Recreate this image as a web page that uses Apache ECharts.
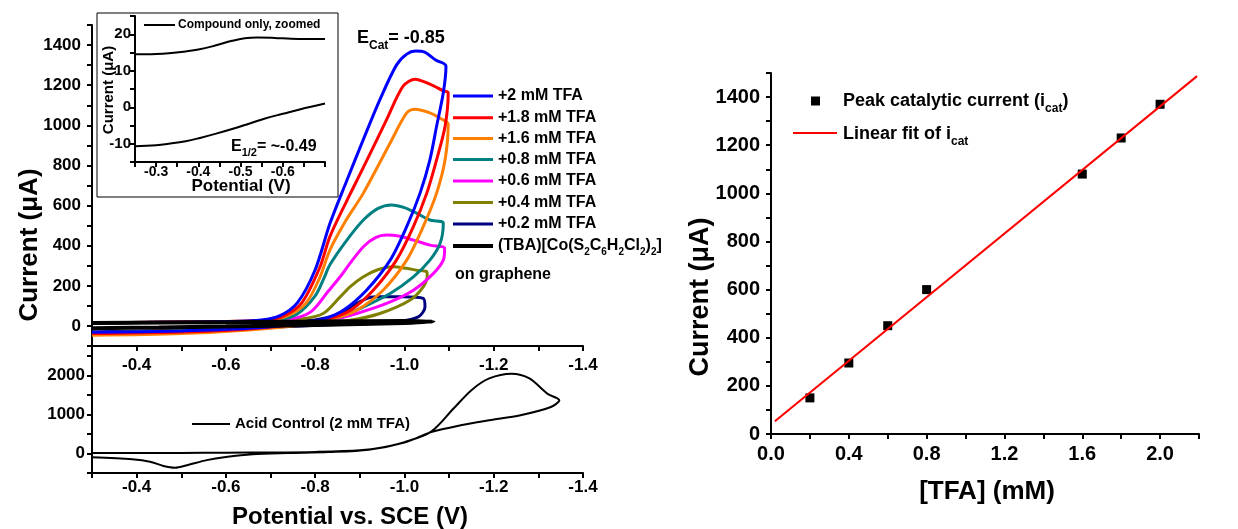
<!DOCTYPE html>
<html>
<head>
<meta charset="utf-8">
<title>Catalytic CV and peak current</title>
<script src="https://cdn.jsdelivr.net/npm/echarts@6/dist/echarts.min.js"></script>
<style>
  html, body { margin: 0; padding: 0; background: #fff; }
  #chart { width: 1238px; height: 529px; }
</style>
</head>
<body>
<div id="chart"></div>
<script>
// CV loops, [potential (V vs SCE), current (uA)]
const cv20 = [[-0.3, 15], [-0.45, 18], [-0.6, 22], [-0.68, 30], [-0.72, 50], [-0.76, 115], [-0.8, 280], [-0.833, 510], [-0.87, 720], [-0.908, 930], [-0.945, 1128], [-0.982, 1300], [-1.005, 1355], [-1.025, 1370], [-1.045, 1365], [-1.07, 1325], [-1.093, 1295],
  [-1.087, 1162], [-1.072, 995], [-1.057, 828], [-1.035, 662], [-1.005, 495], [-0.968, 328], [-0.915, 178], [-0.863, 78], [-0.82, 35], [-0.76, 10], [-0.65, -12], [-0.5, -25], [-0.3, -32]]
const cv18 = [[-0.3, 15], [-0.45, 18], [-0.6, 22], [-0.69, 30], [-0.73, 50], [-0.77, 115], [-0.81, 290], [-0.833, 445], [-0.87, 620], [-0.908, 790], [-0.96, 1028], [-0.997, 1195], [-1.024, 1230], [-1.057, 1205], [-1.087, 1172], [-1.098, 1162],
  [-1.091, 995], [-1.072, 828], [-1.05, 662], [-1.02, 495], [-0.982, 328], [-0.93, 178], [-0.88, 80], [-0.83, 35], [-0.76, 8], [-0.65, -15], [-0.5, -30], [-0.3, -38]]
const cv16 = [[-0.3, 15], [-0.45, 18], [-0.6, 22], [-0.7, 30], [-0.74, 52], [-0.78, 115], [-0.81, 240], [-0.833, 378], [-0.87, 530], [-0.908, 662], [-0.968, 912], [-1.005, 1062], [-1.024, 1080], [-1.057, 1062], [-1.08, 1035], [-1.098, 1005],
  [-1.091, 828], [-1.072, 662], [-1.042, 495], [-1.005, 328], [-0.952, 178], [-0.893, 78], [-0.84, 35], [-0.77, 5], [-0.65, -20], [-0.5, -38], [-0.3, -47]]
const cv08 = [[-0.3, 15], [-0.5, 18], [-0.65, 22], [-0.72, 32], [-0.76, 60], [-0.8, 150], [-0.82, 240], [-0.833, 305], [-0.871, 428], [-0.908, 528], [-0.94, 585], [-0.971, 603], [-1.0, 590], [-1.027, 562], [-1.057, 528], [-1.087, 512],
  [-1.08, 412], [-1.057, 328], [-1.02, 245], [-0.968, 162], [-0.908, 95], [-0.856, 45], [-0.8, 20], [-0.7, 0], [-0.55, -20], [-0.3, -35]]
const cv06 = [[-0.3, 15], [-0.5, 18], [-0.65, 22], [-0.74, 32], [-0.79, 70], [-0.83, 175], [-0.856, 245], [-0.878, 312], [-0.908, 395], [-0.935, 440], [-0.96, 453], [-0.99, 447], [-1.02, 428], [-1.057, 403], [-1.09, 387],
  [-1.087, 328], [-1.065, 262], [-1.02, 178], [-0.96, 112], [-0.893, 62], [-0.833, 28], [-0.75, 5], [-0.6, -18], [-0.3, -38]]
const cv04 = [[-0.3, 15], [-0.5, 18], [-0.7, 22], [-0.77, 35], [-0.818, 62], [-0.856, 145], [-0.878, 195], [-0.908, 245], [-0.94, 280], [-0.975, 295], [-1.005, 287], [-1.027, 278], [-1.05, 270], [-1.051, 253],
  [-1.042, 195], [-1.012, 128], [-0.945, 62], [-0.878, 28], [-0.8, 10], [-0.65, -12], [-0.3, -35]]
const cv02 = [[-0.3, 15], [-0.5, 18], [-0.7, 22], [-0.8, 30], [-0.856, 62], [-0.893, 112], [-0.92, 140], [-0.945, 145], [-0.997, 145], [-1.042, 137], [-1.046, 95],
  [-1.031, 45], [-0.982, 20], [-0.93, 12], [-0.818, 5], [-0.6, -15], [-0.3, -30]]
const cvCompound = [[-0.3, -11], [-0.45, -8], [-0.6, -3], [-0.8, 5], [-1.0, 15], [-1.065, 22], [-1.0, 25], [-0.8, 22], [-0.6, 19], [-0.3, 15]]

// inset: compound only, zoomed
const insetUpper = [[-0.25, 14.5], [-0.3, 14.6], [-0.33, 14.8], [-0.37, 15.3], [-0.4, 15.8], [-0.44, 16.9], [-0.48, 18.2], [-0.51, 18.9], [-0.54, 19.1], [-0.58, 19.0], [-0.62, 18.8], [-0.7, 18.7]]
const insetLower = [[-0.25, -10.7], [-0.3, -10.4], [-0.33, -10.0], [-0.37, -9.3], [-0.404, -8.4], [-0.44, -7.3], [-0.482, -5.9], [-0.52, -4.5], [-0.56, -3.0], [-0.6, -1.8], [-0.64, -0.6], [-0.7, 1.0]]

// acid control (2 mM TFA)
const acidCv = [[-0.3, 10], [-0.4, 12], [-0.5, 15], [-0.6, 20], [-0.7, 25], [-0.8, 40], [-0.9, 80], [-0.95, 150], [-1.0, 290], [-1.06, 560], [-1.11, 1150], [-1.15, 1620], [-1.19, 1920], [-1.24, 2040], [-1.28, 1920], [-1.32, 1530], [-1.347, 1360],
  [-1.328, 1190], [-1.26, 980], [-1.19, 850], [-1.126, 720], [-1.06, 545], [-1.0, 280], [-0.92, 95], [-0.83, 35], [-0.74, 10], [-0.66, -20], [-0.6, -90], [-0.557, -170], [-0.513, -300], [-0.486, -365], [-0.46, -320], [-0.43, -210], [-0.39, -150], [-0.3, -100]]

// peak catalytic current vs [TFA]
const tfaConc = [0.2, 0.4, 0.6, 0.8, 1.6, 1.8, 2.0]
const icatPeak = [150, 295, 450, 600, 1080, 1230, 1370]
const fitConc = [0.02, 2.19]
const fitCurrent = [53, 1487]

const cvLabels = ['+2 mM TFA', '+1.8 mM TFA', '+1.6 mM TFA', '+0.8 mM TFA', '+0.6 mM TFA', '+0.4 mM TFA', '+0.2 mM TFA']
const cvColors = ['#0000ff', '#ff0000', '#ff8000', '#008080', '#ff00ff', '#808000', '#000080']
const cvLoops = [cv20, cv18, cv16, cv08, cv06, cv04, cv02]

const FONT = '"Liberation Sans", Arial, Helvetica, sans-serif'

var chart = echarts.init(document.getElementById('chart'))

function axis(extra, fontSize, margin, formatter) {
  return Object.assign({
    type: 'value',
    axisLine: { show: true, onZero: false, lineStyle: { color: '#000', width: 2 } },
    axisTick: { show: true, inside: false, length: 5, lineStyle: { color: '#000', width: 2 } },
    splitLine: { show: false },
    axisLabel: {
      color: '#000', fontWeight: 'bold', fontFamily: FONT, fontSize: fontSize,
      margin: margin, formatter: formatter
    }
  }, extra)
}

const potLabel = v => {
  const k = Math.round(v * 10)
  return (k % 2 === 0 && k <= -4) ? (k / 10).toFixed(1) : ''
}

function txt(x, y, text, size, opts) {
  return Object.assign({
    type: 'text', x: x, y: y, z: 10,
    style: Object.assign({
      text: text, fill: '#000', fontSize: size, fontWeight: 'bold', fontFamily: FONT,
      textAlign: 'left', textVerticalAlign: 'middle'
    }, opts || {})
  })
}

function sub(text, size, subSize, shift) {
  return {
    rich: {
      a: { fontSize: size, fontWeight: 'bold', fontFamily: FONT, fill: '#000' },
      s: { fontSize: subSize, fontWeight: 'bold', fontFamily: FONT, fill: '#000', padding: [shift, 0, 0, 0] }
    }
  }
}

function keyLine(x1, x2, y, color, w) {
  return { type: 'line', z: 10, shape: { x1: x1, y1: y, x2: x2, y2: y }, style: { stroke: color, lineWidth: w } }
}

const series = []
for (let i = cvLoops.length - 1; i >= 0; i--) {
  series.push({
    name: cvLabels[i], type: 'line', xAxisIndex: 0, yAxisIndex: 0,
    data: cvLoops[i], showSymbol: false, smooth: 0.3,
    lineStyle: { color: cvColors[i], width: 3 }
  })
}
series.push({
  type: 'line', xAxisIndex: 0, yAxisIndex: 0, data: cvCompound, showSymbol: false, smooth: 0.3,
  lineStyle: { color: '#000', width: 4 }
})
series.push({
  type: 'line', xAxisIndex: 1, yAxisIndex: 1, data: insetUpper, showSymbol: false, smooth: 0.4,
  lineStyle: { color: '#000', width: 2 }
})
series.push({
  type: 'line', xAxisIndex: 1, yAxisIndex: 1, data: insetLower, showSymbol: false, smooth: 0.4,
  lineStyle: { color: '#000', width: 2 }
})
series.push({
  type: 'line', xAxisIndex: 2, yAxisIndex: 2, data: acidCv, showSymbol: false, smooth: 0.3,
  lineStyle: { color: '#000', width: 2 }
})
series.push({
  type: 'line', xAxisIndex: 3, yAxisIndex: 3, data: fitConc.map((c, i) => [c, fitCurrent[i]]),
  showSymbol: false, lineStyle: { color: '#ff0000', width: 2 }
})
series.push({
  type: 'scatter', xAxisIndex: 3, yAxisIndex: 3, data: tfaConc.map((c, i) => [c, icatPeak[i]]),
  symbol: 'rect', symbolSize: 9, itemStyle: { color: '#000', opacity: 1 }
})

const legendY = [96, 117.7, 138.5, 159.5, 181, 202.5, 224]

const graphic = [
  { type: 'rect', z: -10, shape: { x: 97, y: 13, width: 241, height: 184 }, style: { fill: '#fff', stroke: '#000', lineWidth: 1 } },
  keyLine(144, 175, 25, '#000', 2),
  txt(178, 25, 'Compound only, zoomed', 12),
  txt(231, 147, '{a|E}{s|1/2}{a|= ~-0.49}', 16, sub('', 16, 11, 12)),
  txt(357, 38, '{a|E}{s|Cat}{a|= -0.85}', 18, sub('', 18, 12, 16)),
  txt(109, 90, 'Current (μA)', 15, { textAlign: 'center' }),
  txt(241, 186, 'Potential (V)', 17, { textAlign: 'center' }),
  keyLine(192, 230, 424, '#000', 2),
  txt(235, 424, 'Acid Control (2 mM TFA)', 15),
  keyLine(453, 493, 246, '#000', 4),
  txt(498, 246, '{a|(TBA)[Co(S}{s|2}{a|C}{s|6}{a|H}{s|2}{a|Cl}{s|2}{a|)}{s|2}{a|]}', 16, sub('', 16, 10, 12)),
  txt(455, 275, 'on graphene', 16),
  txt(350, 517, 'Potential vs. SCE (V)', 24, { textAlign: 'center' }),
  txt(987, 492, '[TFA] (mM)', 26, { textAlign: 'center' }),
  { type: 'rect', z: 10, shape: { x: 811, y: 96.5, width: 9, height: 9 }, style: { fill: '#000' } },
  txt(843, 101, '{a|Peak catalytic current (i}{s|cat}{a|)}', 18, sub('', 18, 12, 16)),
  keyLine(793, 837, 133, '#ff0000', 2),
  txt(843, 134, '{a|Linear fit of i}{s|cat}', 18, sub('', 18, 12, 16))
]
cvLabels.forEach((label, i) => {
  graphic.push(keyLine(453, 493, legendY[i], cvColors[i], 3))
  graphic.push(txt(498, legendY[i], label, 16))
})
const yTitleMain = txt(0, 0, 'Current (μA)', 26, { textAlign: 'center' })
yTitleMain.x = 30; yTitleMain.y = 245; yTitleMain.rotation = Math.PI / 2
graphic.push(yTitleMain)
const yTitleRight = txt(0, 0, 'Current (μA)', 27, { textAlign: 'center' })
yTitleRight.x = 701; yTitleRight.y = 297; yTitleRight.rotation = Math.PI / 2
graphic.push(yTitleRight)
const yTitleInset = graphic[5]
yTitleInset.rotation = Math.PI / 2

chart.setOption({
  backgroundColor: '#fff',
  animation: false,
  grid: [
    { left: 92, top: 25, width: 491, height: 321 },
    { left: 135, top: 16, width: 190, height: 146 },
    { left: 92, top: 346, width: 491, height: 127 },
    { left: 771, top: 73, width: 428, height: 361 }
  ],
  xAxis: [
    axis({ gridIndex: 0, min: -1.4, max: -0.3, interval: 0.1, inverse: true }, 17, 11, potLabel),
    axis({ gridIndex: 1, min: -0.7, max: -0.25, interval: 0.05, inverse: true }, 14, 3, v => {
      const k = Math.round(v * 100)
      return (k % 10 === 0 && k >= -60 && k <= -30) ? (k / 100).toFixed(1) : ''
    }),
    axis({ gridIndex: 2, min: -1.4, max: -0.3, interval: 0.1, inverse: true }, 17, 6, potLabel),
    axis({ gridIndex: 3, min: 0, max: 2.2, interval: 0.2 }, 20, 10, v => {
      const k = Math.round(v * 10)
      return (k % 4 === 0 && k <= 20) ? (k / 10).toFixed(1) : ''
    })
  ],
  yAxis: [
    axis({ gridIndex: 0, min: -100, max: 1500, interval: 100 }, 17, 11, v => {
      const r = Math.round(v)
      return (r % 200 === 0 && r >= 0 && r <= 1400) ? String(r) : ''
    }),
    axis({ gridIndex: 1, min: -15, max: 25, interval: 5 }, 15, 4, v => {
      const r = Math.round(v)
      return (r % 10 === 0 && r >= -10 && r <= 20) ? String(r) : ''
    }),
    axis({ gridIndex: 2, min: -500, max: 2750, interval: 500 }, 17, 7, v => {
      const r = Math.round(v)
      return (r % 1000 === 0 && r >= 0 && r <= 2000) ? String(r) : ''
    }),
    axis({ gridIndex: 3, min: 0, max: 1500, interval: 100 }, 20, 11, v => {
      const r = Math.round(v)
      return (r % 200 === 0 && r <= 1400) ? String(r) : ''
    })
  ],
  graphic: graphic,
  series: series
})
</script>
</body>
</html>
